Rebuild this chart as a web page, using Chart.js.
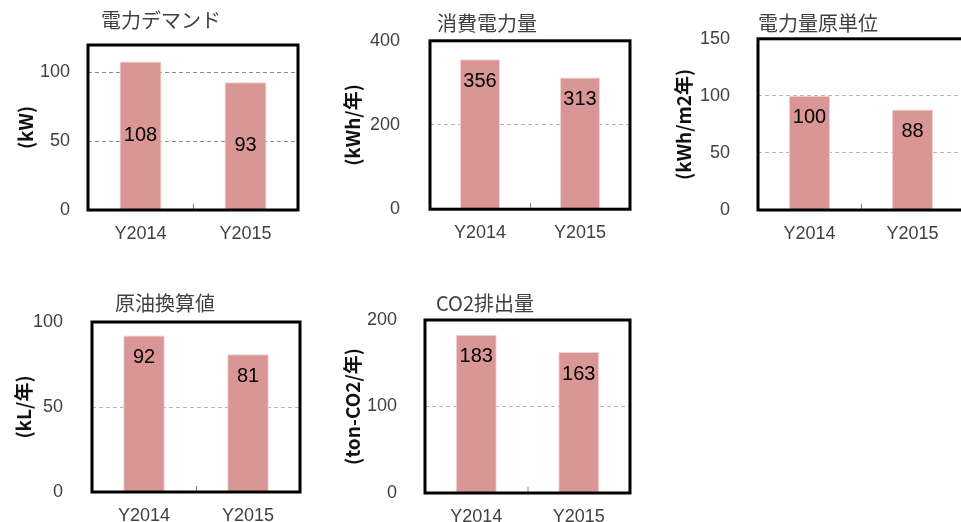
<!DOCTYPE html>
<html>
<head>
<meta charset="utf-8">
<script src="https://cdn.jsdelivr.net/npm/chart.js@4.4.1/dist/chart.umd.min.js"></script>
<style>
html, body { margin: 0; padding: 0; background: #fff; overflow: hidden; }
#wrap { position: relative; width: 961px; height: 522px; overflow: hidden; }
#wrap canvas { position: absolute; }
</style>
</head>
<body>
<div id="wrap"></div>
<script>
// yearly values for each indicator
var years = ['Y2014', 'Y2015'];
var demand = [108, 93];
var consumption = [356, 313];
var intensity = [100, 88];
var crudeOil = [92, 81];
var co2 = [183, 163];

var titles = ['電力デマンド', '消費電力量', '電力量原単位', '原油換算値', 'CO2排出量'];
var units = ['(kW)', '(kWh/年)', '(kWh/m2年)', '(kL/年)', '(ton-CO2/年)'];
var axisMax = [120, 400, 150, 100, 200];
var axisStep = [50, 200, 50, 50, 100];
var labelAt = ['center', 'top', 'top', 'top', 'top'];

var series = [demand, consumption, intensity, crudeOil, co2];

// where each little chart sits on the page
var boxes = [
	{left: 0,   top: 0,   width: 322, height: 250, yW: 88,  padR: 24, tTop: 8,  tBot: 13, yTitle: 14, tickPad: 18, grid: '#8c8c8c'},
	{left: 330, top: 0,   width: 314, height: 250, yW: 100, padR: 14, tTop: 8,  tBot: 5,  yTitle: 11, tickPad: 30, grid: '#b4b4b4'},
	{left: 660, top: 0,   width: 316, height: 250, yW: 98,  padR: 12, tTop: 8,  tBot: 3,  yTitle: 12, tickPad: 28, grid: '#b4b4b4'},
	{left: 0,   top: 270, width: 330, height: 262, yW: 92,  padR: 30, tTop: 21, tBot: 7,  yTitle: 12, tickPad: 29, grid: '#b4b4b4'},
	{left: 330, top: 270, width: 310, height: 263, yW: 95,  padR: 10, tTop: 21, tBot: 5,  yTitle: 11, tickPad: 28, grid: '#b4b4b4'}
];

var latin = '"Liberation Sans", "Noto Sans CJK JP", sans-serif';
var cjk = '"Noto Sans CJK JP", sans-serif';

// black frame round the plot, centre divider tick and the value labels
var frame = {
	id: 'frame',
	afterDatasetsDraw: function(chart, args, opts) {
		var ctx = chart.ctx;
		var a = chart.chartArea;
		var x = chart.scales.x;
		ctx.save();
		var mid = (x.getPixelForValue(0) + x.getPixelForValue(1)) / 2;
		ctx.strokeStyle = '#808080';
		ctx.lineWidth = 1;
		ctx.beginPath();
		ctx.moveTo(mid + 0.5, a.bottom);
		ctx.lineTo(mid + 0.5, a.bottom - 6);
		ctx.stroke();

		ctx.strokeStyle = '#000';
		ctx.lineWidth = 3;
		ctx.strokeRect(a.left, a.top, a.right - a.left, a.bottom - a.top);

		var meta = chart.getDatasetMeta(0);
		var values = chart.data.datasets[0].data;
		ctx.fillStyle = '#000';
		ctx.font = '20px ' + latin;
		ctx.textAlign = 'center';
		ctx.textBaseline = 'middle';
		meta.data.forEach(function(bar, i) {
			var y = opts.at === 'center' ? (bar.y + bar.base) / 2 : bar.y + 22;
			ctx.fillText(values[i], bar.x, y);
		});
		ctx.restore();
	}
};

var wrap = document.getElementById('wrap');

for (var i = 0; i < series.length; i++) {
	var b = boxes[i];
	var cv = document.createElement('canvas');
	cv.width = b.width;
	cv.height = b.height;
	cv.style.left = b.left + 'px';
	cv.style.top = b.top + 'px';
	cv.style.width = b.width + 'px';
	cv.style.height = b.height + 'px';
	wrap.appendChild(cv);

	(function(b, i) {
		new Chart(cv, {
			type: 'bar',
			data: {
				labels: years,
				datasets: [{
					data: series[i],
					backgroundColor: '#d99694',
					borderColor: '#f0d2d1',
					borderWidth: 1,
					categoryPercentage: 1,
					barPercentage: 0.4
				}]
			},
			options: {
				responsive: false,
				animation: false,
				layout: { padding: 0 },
				plugins: {
					legend: { display: false },
					tooltip: { enabled: false },
					title: {
						display: true,
						text: titles[i],
						color: '#404040',
						font: { family: cjk, size: 20, weight: 'normal', lineHeight: 1.2 },
						padding: { top: b.tTop, bottom: b.tBot }
					},
					frame: { at: labelAt[i] }
				},
				scales: {
					x: {
						grid: { display: false },
						border: { display: false },
						ticks: {
							color: '#404040',
							padding: 5,
							font: { family: latin, size: 18 }
						},
						afterFit: function(s) { s.height = 40; }
					},
					y: {
						min: 0,
						max: axisMax[i],
						grid: { color: b.grid, drawTicks: false, lineWidth: 1 },
						border: { display: false, dash: [4, 3] },
						ticks: {
							stepSize: axisStep[i],
							includeBounds: false,
							color: '#404040',
							padding: b.tickPad,
							font: { family: latin, size: 18 }
						},
						title: {
							display: true,
							text: units[i],
							color: '#111',
							font: { family: cjk, size: 19, weight: 'bold', lineHeight: 1.2 },
							padding: { top: b.yTitle, bottom: 0 }
						},
						afterFit: function(s) { s.width = b.yW; }
					},
					// empty right-hand gutter so the title stays centred on the whole panel
					gutter: {
						type: 'linear',
						position: 'right',
						grid: { display: false },
						border: { display: false },
						ticks: { display: false },
						afterFit: function(s) { s.width = b.padR; }
					}
				}
			},
			plugins: [frame]
		});
	})(b, i);
}
</script>
</body>
</html>
